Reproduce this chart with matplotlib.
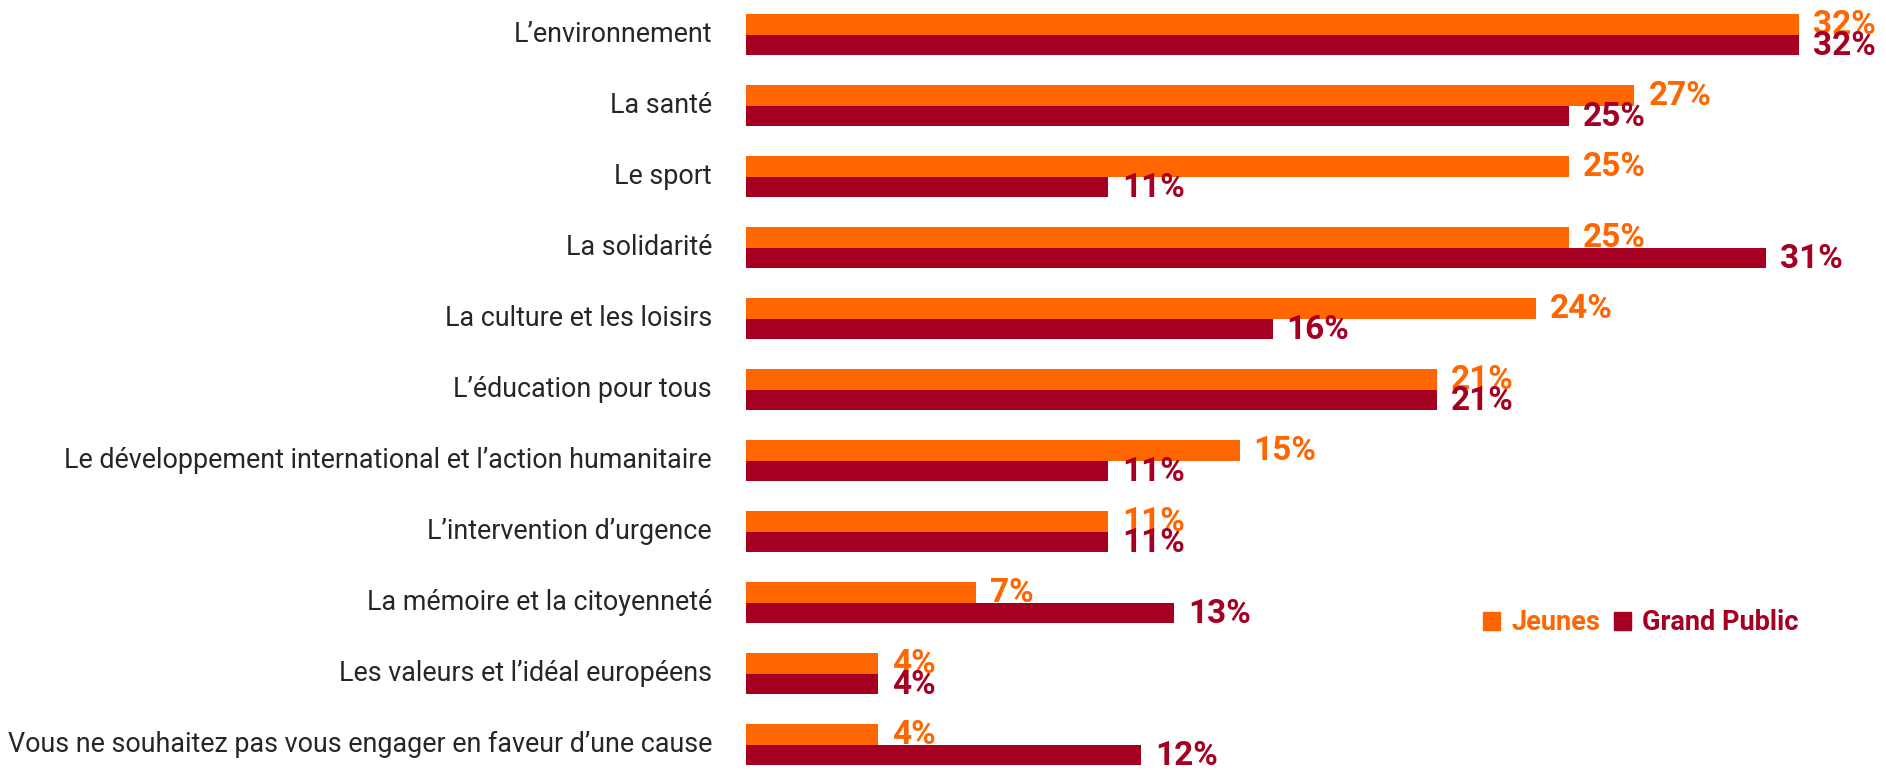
import matplotlib
matplotlib.use("Agg")
import matplotlib.pyplot as plt
from matplotlib import font_manager

categories = [
    "L\u2019environnement",
    "La santé",
    "Le sport",
    "La solidarité",
    "La culture et les loisirs",
    "L\u2019éducation pour tous",
    "Le développement international et l\u2019action humanitaire",
    "L\u2019intervention d\u2019urgence",
    "La mémoire et la citoyenneté",
    "Les valeurs et l\u2019idéal européens",
    "Vous ne souhaitez pas vous engager en faveur d\u2019une cause",
]
jeunes = [32, 27, 25, 25, 24, 21, 15, 11, 7, 4, 4]
grand_public = [32, 25, 11, 31, 16, 21, 11, 11, 13, 4, 12]
series_names = ["Jeunes", "Grand Public"]

ORANGE = "#FF6600"
RED = "#A50021"

names = {f.name for f in font_manager.fontManager.ttflist}
font = "Liberation Sans Narrow" if "Liberation Sans Narrow" in names else "Roboto"
plt.rcParams["font.family"] = [font, "DejaVu Sans"]

W, H = 1886, 770
fig = plt.figure(figsize=(W / 100, H / 100), dpi=100)

# axes placed so the zero line sits at x=746 px and 32% ends at x=1799 px
x0, x32 = 746, 1799
ax = fig.add_axes([x0 / W, 0, (x32 - x0) / W, 1])
ax.set_xlim(0, 32)
# group i: boundary between the two bars at 34.7 + 71*i px from the top
top = (0 - 34.7) / 71
bottom = (H - 34.7) / 71
ax.set_ylim(bottom, top)
ax.axis("off")

bh = 20.5 / 71
ypos = list(range(len(categories)))
ax.barh([y - bh / 2 for y in ypos], jeunes, height=bh, color=ORANGE)
ax.barh([y + bh / 2 for y in ypos], grand_public, height=bh, color=RED)

for y, cat, j, g in zip(ypos, categories, jeunes, grand_public):
    ax.annotate(cat, (0, y), xytext=(-34, 0), textcoords="offset pixels",
                ha="right", va="center", fontsize=19.4, color="#262626",
                annotation_clip=False)
    ax.annotate(f"{j}%", (j, y - bh / 2), xytext=(14, -1), textcoords="offset pixels",
                ha="left", va="center", fontsize=24, fontweight="bold",
                color=ORANGE, annotation_clip=False)
    ax.annotate(f"{g}%", (g, y + bh / 2), xytext=(14, -1), textcoords="offset pixels",
                ha="left", va="center", fontsize=24, fontweight="bold",
                color=RED, annotation_clip=False)

# legend
leg = fig.legend(
    handles=[plt.Rectangle((0, 0), 1, 1, color=ORANGE), plt.Rectangle((0, 0), 1, 1, color=RED)],
    labels=series_names, loc="center left", bbox_to_anchor=(1472 / W, 1 - 623 / H),
    ncol=2, frameon=False, handlelength=0.65, handleheight=0.65, handletextpad=0.4,
    columnspacing=0.5, prop={"size": 19.5, "weight": "bold"}, borderaxespad=0,
)
for txt, c in zip(leg.get_texts(), [ORANGE, RED]):
    txt.set_color(c)

fig.savefig("out.png", dpi=100)
